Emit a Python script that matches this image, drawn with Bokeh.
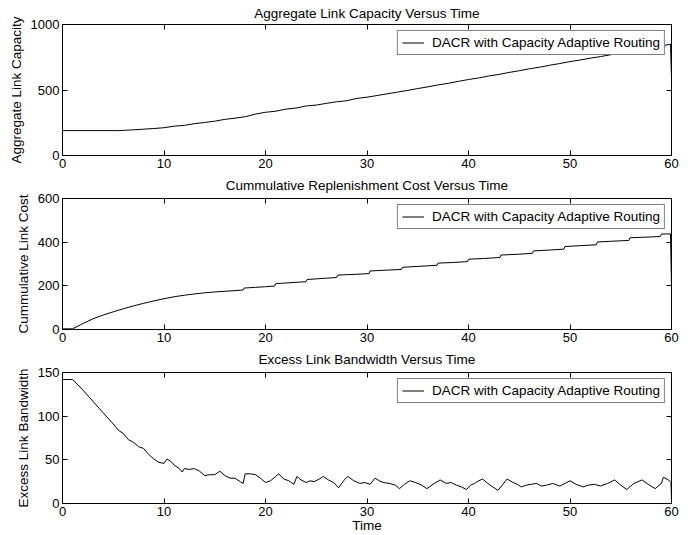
from bokeh.plotting import figure
from bokeh.models import Range1d, FixedTicker, LinearAxis, Legend, LegendItem
from bokeh.layouts import column
from bokeh.embed import file_html
from bokeh.resources import INLINE

# ---------------- data ----------------
time_ticks = [0, 10, 20, 30, 40, 50, 60]

cap_ticks = [0, 500, 1000]
cap_t = [0, 5, 5.5, 6, 7, 8, 9, 10, 11, 12, 13, 14, 15, 16, 17, 18, 19, 20,
         21, 22, 23, 24, 25, 26, 27, 28, 29, 30, 31, 32, 33, 34, 35, 36, 37, 38,
         39, 40, 41, 42, 43, 44, 45, 46, 47, 48, 49, 50, 51, 52, 53, 54, 55, 56,
         57, 58, 59, 59.9, 60]
cap_v = [190, 190, 190, 192, 196, 201, 206, 212, 224, 230, 243, 252, 262, 276,
         285, 296, 316, 330, 338, 354, 362, 378, 385, 398, 410, 418, 436, 445,
         458, 471, 484, 497, 511, 524, 539, 551, 566, 580, 592, 607, 619, 634,
         647, 662, 674, 689, 702, 717, 729, 743, 755, 769, 781, 795, 807, 822,
         836, 850, 585]

cost_ticks = [0, 200, 400, 600]
cost_t = [0, 1.0, 2, 3, 4, 5, 6, 7, 8, 9, 10, 11, 12, 13, 14, 15, 16, 17,
          17.8, 17.9, 19, 20, 20.9, 21.0, 22, 23, 24.0, 24.1, 25, 26, 27.0, 27.1,
          28, 29, 30.2, 30.3, 31.5, 33.4, 33.5, 35, 36.9, 37.0, 38.5, 39.9, 40.0,
          41.5, 43.1, 43.2, 45, 46.3, 46.4, 48, 49.4, 49.5, 51, 52.6, 52.7, 54,
          55.8, 55.9, 57.5, 58.9, 59.0, 59.9, 60]
cost_v = [3, 3, 27, 49, 66, 81, 95, 108, 120, 131, 141, 150, 157, 163, 168,
          172, 175, 178, 181, 190, 193, 196, 199, 210, 213, 216, 219, 229, 232,
          235, 238, 249, 251, 253, 256, 268, 271, 275, 285, 289, 294, 304, 307,
          311, 322, 325, 330, 341, 345, 349, 360, 364, 368, 380, 384, 388, 401,
          404, 408, 420, 423, 426, 437, 438, 195]

bw_ticks = [0, 50, 100, 150]
bw_t = [0, 1, 2, 3, 4, 5, 5.5, 6, 6.5, 7, 7.5, 8, 8.5, 9, 9.5, 10, 10.3, 10.7,
        11, 11.5, 11.8, 12, 12.5, 13, 13.5, 14, 14.5, 15, 15.5, 16, 16.5, 17,
        17.5, 17.8, 18, 18.5, 19, 19.5, 20, 20.5, 21, 21.3, 21.8, 22.3, 22.8,
        23.1, 23.5, 24, 24.4, 24.8, 25.3, 25.7, 26.2, 26.7, 27.2, 27.7, 28.1,
        28.7, 29.3, 29.8, 30.3, 30.8, 31.2, 31.6, 32.2, 32.8, 33.2, 33.7, 34.2,
        34.8, 35.4, 35.9, 36.5, 37.2, 37.8, 38.3, 38.8, 39.3, 39.8, 40.2, 40.6,
        41.0, 41.4, 41.9, 42.4, 42.9, 43.4, 43.8, 44.4, 44.8, 45.2, 45.7, 46.2,
        46.7, 47.2, 47.7, 48.3, 49.0, 49.5, 50.0, 50.6, 51.3, 51.8, 52.4, 53.0,
        53.7, 54.4, 55.0, 55.6, 56.3, 57.1, 57.7, 58.4, 59.0, 59.2, 59.7, 59.95,
        60]
bw_v = [142, 142, 130, 117, 104, 91, 84, 80, 73, 70, 65, 63, 56, 51, 47, 46,
        51, 48, 44, 40, 36, 40, 39, 40, 37, 32, 33, 33, 37, 32, 29, 29, 25, 23,
        34, 34, 33, 29, 24, 26, 31, 34, 28, 26, 22, 31, 27, 24, 26, 25, 28, 31,
        27, 24, 18, 26, 31, 26, 23, 24, 22, 29, 26, 24, 23, 21, 17, 22, 26, 24,
        21, 17, 22, 27, 23, 24, 21, 19, 16, 21, 23, 26, 28, 23, 19, 15, 22, 28,
        24, 22, 19, 21, 22, 23, 20, 21, 23, 20, 23, 26, 22, 19, 21, 22, 20, 23,
        27, 21, 16, 23, 27, 22, 17, 23, 30, 27, 24, 5]

series_label = "DACR with Capacity Adaptive Routing"

FONT = "Liberation Sans"


def style_axis(ax, ticks, labels=True):
    ax.ticker = FixedTicker(ticks=ticks)
    ax.major_tick_in = 5
    ax.major_tick_out = 0
    ax.minor_tick_in = 0
    ax.minor_tick_out = 0
    ax.axis_line_color = "black"
    ax.major_tick_line_color = "black"
    ax.major_label_text_font = FONT
    ax.major_label_text_font_size = "13px"
    ax.major_label_text_color = "black"
    ax.major_label_standoff = 3
    ax.axis_label_text_font = FONT
    ax.axis_label_text_font_size = "13.5px"
    ax.axis_label_text_font_style = "normal"
    ax.axis_label_text_color = "black"
    ax.axis_label_standoff = 4
    if not labels:
        ax.major_label_text_font_size = "0px"
        ax.major_label_text_color = None
        ax.major_label_standoff = 0


def make(title, ylabel, ymax, yticks, xs, ys, height, top, bottom,
         title_standoff, xlabel=None):
    p = figure(width=697, height=height, output_backend="svg",
               toolbar_location=None,
               x_range=Range1d(0, 60), y_range=Range1d(0, ymax),
               min_border_left=62, min_border_right=26,
               min_border_top=top, min_border_bottom=bottom)
    p.title = None
    p.grid.visible = False
    p.outline_line_color = "black"
    p.background_fill_color = "white"
    p.border_fill_color = "white"

    style_axis(p.xaxis[0], time_ticks)
    style_axis(p.yaxis[0], yticks)
    p.yaxis[0].axis_label = ylabel
    if xlabel:
        p.xaxis[0].axis_label = xlabel
        p.xaxis[0].axis_label_standoff = -1

    # top axis: mirrored ticks, carries the subplot title
    top_ax = LinearAxis()
    style_axis(top_ax, time_ticks, labels=False)
    top_ax.axis_label = title
    top_ax.axis_label_standoff = title_standoff
    p.add_layout(top_ax, "above")
    right_ax = LinearAxis()
    style_axis(right_ax, yticks, labels=False)
    p.add_layout(right_ax, "right")

    r = p.line(xs, ys, line_color="black", line_width=1)

    leg = Legend(items=[LegendItem(label=series_label, renderers=[r])],
                 location="top_right")
    leg.margin = 6
    leg.padding = 4
    leg.spacing = 0
    leg.glyph_width = 22
    leg.glyph_height = 11
    leg.label_height = 11
    leg.label_standoff = 8
    leg.label_text_font = FONT
    leg.label_text_font_size = "13.5px"
    leg.label_text_color = "black"
    leg.border_line_color = "black"
    leg.border_line_width = 1
    leg.background_fill_color = "white"
    leg.background_fill_alpha = 1.0
    p.add_layout(leg)
    return p


p1 = make("Aggregate Link Capacity Versus Time", "Aggregate Link Capacity",
          1000, cap_ticks, cap_t, cap_v, height=174, top=24, bottom=19,
          title_standoff=4)
p2 = make("Cummulative Replenishment Cost Versus Time", "Cummulative Link Cost",
          600, cost_ticks, cost_t, cost_v, height=174, top=24, bottom=19,
          title_standoff=6)
p3 = make("Excess Link Bandwidth Versus Time", "Excess Link Bandwidth",
          150, bw_ticks, bw_t, bw_v, height=187, top=24, bottom=32,
          title_standoff=6, xlabel="Time")

layout = column(p1, p2, p3, spacing=0)

open("out.html", "w").write(file_html(layout, INLINE))
